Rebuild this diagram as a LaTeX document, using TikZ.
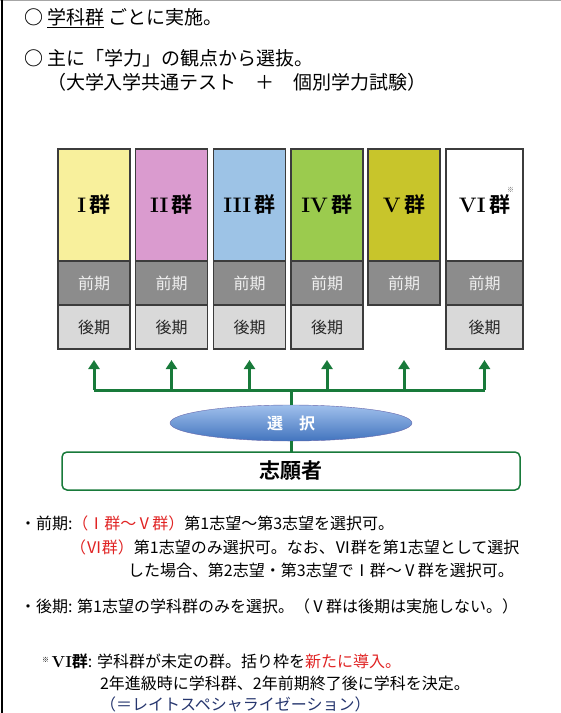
\documentclass[tikz,border=0pt]{standalone}
\usepackage{fontspec}
\newfontfamily\jp{Noto Sans CJK JP}[BoldFont={* Bold}]
\usepackage{tikz}
\usetikzlibrary{arrows.meta}
\usetikzlibrary{positioning}
\usetikzlibrary{shapes.geometric}
\definecolor{gline}{HTML}{187A3A}
\definecolor{hl}{HTML}{E02424}
\definecolor{navy}{HTML}{26366E}
\definecolor{boxline}{HTML}{3C3C3C}
\definecolor{gone}{HTML}{F8F09C}
\definecolor{gtwo}{HTML}{DA9BCF}
\definecolor{gthree}{HTML}{9DC3E6}
\definecolor{gfour}{HTML}{9BCB4E}
\definecolor{gfive}{HTML}{C8C52B}
\newcommand{\gnode}[4]{\node(g#1)[grp,fill=#4] at (#2,149) {\textrm{\bfseries #3}\,群};}
\newcommand{\zenki}[2][]{\node(f#2)[early,below=0pt of g#2,#1]{前期};}
\newcommand{\kouki}[2][]{\node(k#2)[late,below=0pt of f#2,#1]{後期};}

\begin{document}
\begin{tikzpicture}[
        x=1pt, y=-1pt,
        every node/.style={outer sep=0pt},
        grp/.style={rectangle,anchor=north,minimum width=72pt,minimum height=112pt,
                    draw=boxline,line width=1.2pt,
                    font=\jp\bfseries\fontsize{21}{21}\selectfont},
        early/.style={rectangle,minimum width=72pt,minimum height=44pt,draw=boxline,
                      line width=1.2pt,fill=black!45,text=black!6,
                      font=\jp\fontsize{16}{16}\selectfont},
        late/.style={early,fill=black!15,text=black!85},
        wide/.style={minimum width=77pt},
        head/.style={anchor=west,inner sep=0pt,font=\jp\fontsize{19}{19}\selectfont},
        txt/.style={anchor=west,inner sep=0pt,font=\jp\fontsize{16}{16}\selectfont},
        feed/.style={draw=gline,line width=3pt},
        up/.style={feed,-{Triangle[width=11pt,length=9pt]}}
      ]
      \useasboundingbox (0,0) rectangle (561,713);
      \draw[black!35,line width=0.8pt] (0,0.4) -- (561,0.4);
      \draw[line width=2pt] (2,0) -- (2,713);

      % heading
      \node(h1)[head] at (24,18) {{\bfseries ○} \underline{学科群} ごとに実施。};
      \node(h2)[head] at (24,58) {{\bfseries ○} 主に「学力」の観点から選抜。};
      \node(h3)[head] at (47,82) {（大学入学共通テスト　＋　個別学力試験）};

      % groups
      \gnode{1}{94}{I}{gone}
      \gnode{2}{171.5}{II}{gtwo}
      \gnode{3}{249.5}{III}{gthree}
      \gnode{4}{327}{IV}{gfour}
      \gnode{5}{404}{V}{gfive}
      \gnode{6}{484.5}{VI}{white,wide}
      \zenki{1} \zenki{2} \zenki{3} \zenki{4} \zenki{5} \zenki[wide]{6}
      \kouki{1} \kouki{2} \kouki{3} \kouki{4} \kouki[wide]{6}
      \node(mark)[font=\jp\fontsize{7}{7}\selectfont,text=black!60] at ([xshift=26pt,yshift=15pt]g6.center) {※};

      % selection
      \coordinate (bar) at (291,390);
      \coordinate (tip) at (291,360);
      \node(sel)[ellipse,minimum width=242pt,minimum height=36pt,draw=blue!45!black!60,
                 top color={rgb,255:red,160;green,192;blue,236},
                 bottom color={rgb,255:red,66;green,116;blue,190},
                 text=white,font=\jp\bfseries\fontsize{16}{16}\selectfont] at (291,423) {選　択};
      \node(app)[rectangle,rounded corners=5pt,draw=gline,line width=1.5pt,
                 minimum width=458pt,minimum height=38pt,
                 font=\jp\bfseries\fontsize{21}{21}\selectfont] at (291,471) {志願者};
      \draw[feed] (app.north) -- (sel.south);
      \draw[feed] (sel.north) -- (bar);
      \draw[feed] (g1 |- bar) -- (g6 |- bar);
      \draw[up] (g1 |- bar) -- (g1 |- tip);
      \draw[up] (g2 |- bar) -- (g2 |- tip);
      \draw[up] (g3 |- bar) -- (g3 |- tip);
      \draw[up] (g4 |- bar) -- (g4 |- tip);
      \draw[up] (g5 |- bar) -- (g5 |- tip);
      \draw[up] (g6 |- bar) -- (g6 |- tip);

      % notes
      \node(n1)[txt] at (20,523) {・前期:\textcolor{hl}{（Ⅰ群～Ⅴ群）}第1志望～第3志望を選択可。};
      \node(n2)[txt] at (70,547) {\textcolor{hl}{（Ⅵ群）}第1志望のみ選択可。なお、Ⅵ群を第1志望として選択};
      \node(n3)[txt] at (128,570) {した場合、第2志望・第3志望でⅠ群～Ⅴ群を選択可。};
      \node(n4)[txt] at (20,606) {・後期: 第1志望の学科群のみを選択。（Ⅴ群は後期は実施しない。）};
      \node(n5)[txt] at (42,661) {\raisebox{5pt}{\fontsize{7}{7}\selectfont ※}\,{\bfseries\textrm{VI}群}: 学科群が未定の群。括り枠を\textcolor{hl}{新たに導入。}};
      \node(n6)[txt] at (100,683) {2年進級時に学科群、2年前期終了後に学科を決定。};
      \node(n7)[txt,text=navy] at (100,704) {（＝レイトスペシャライゼーション）};
    \end{tikzpicture}
\end{document}
